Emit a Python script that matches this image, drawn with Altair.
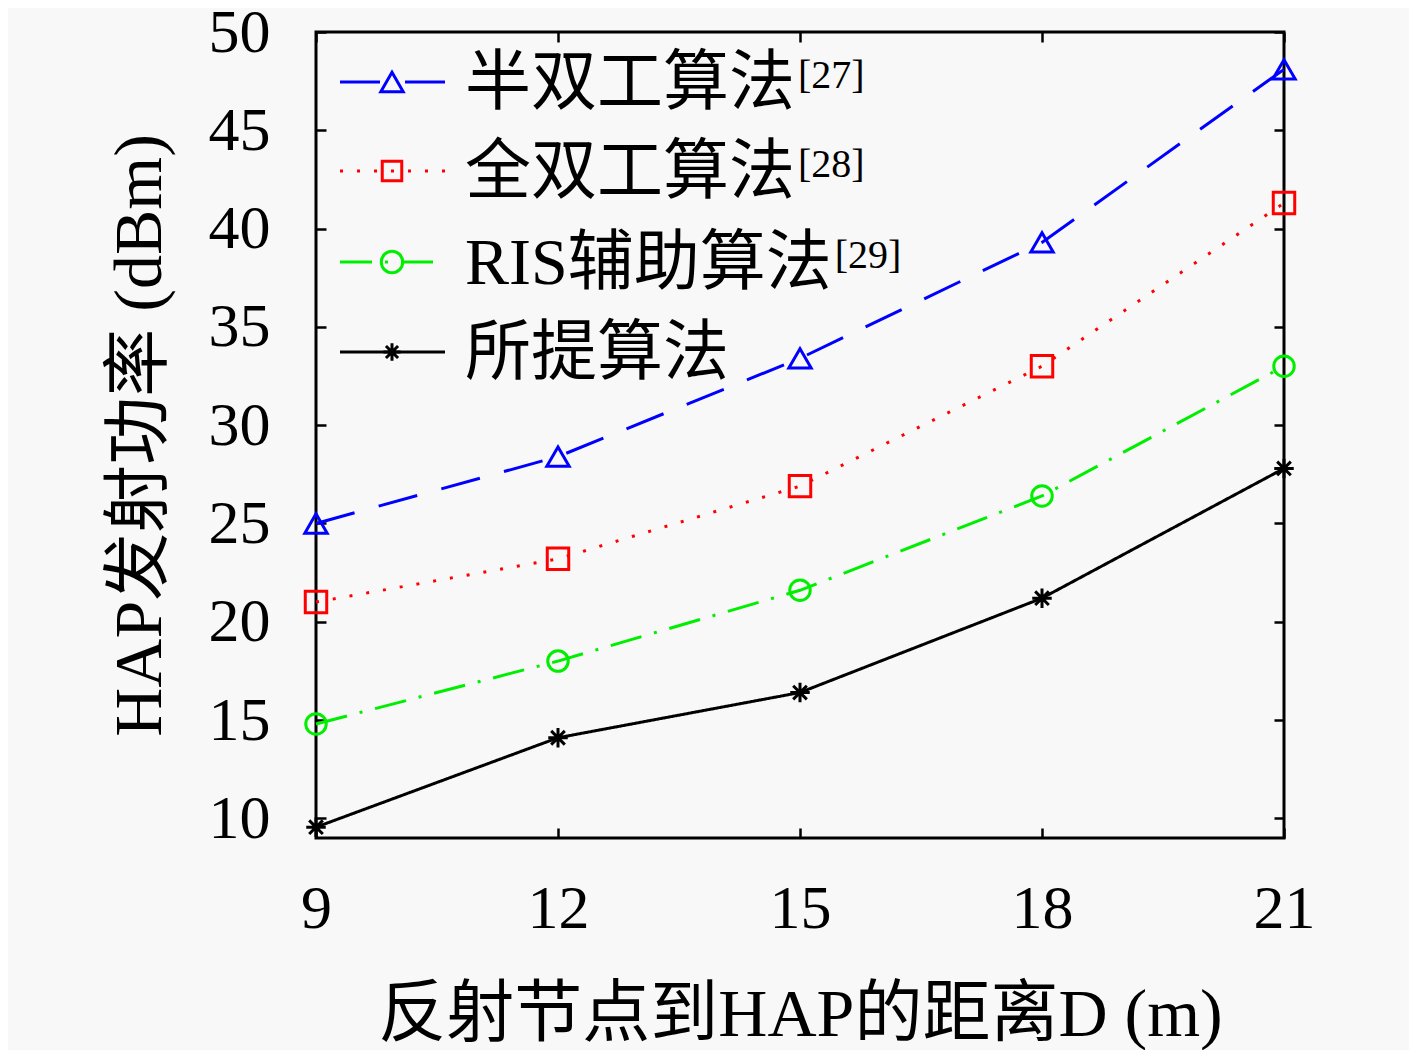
import altair as alt
import pandas as pd

# ---------------- data ----------------
distance = [9, 12, 15, 18, 21]
half_duplex = [25.0, 28.4, 33.4, 39.3, 48.1]
full_duplex = [21.0, 23.2, 26.9, 33.0, 41.3]
ris_assisted = [14.8, 18.0, 21.6, 26.4, 33.0]
proposed = [9.55, 14.1, 16.4, 21.2, 27.8]

series_names = ["半双工算法", "全双工算法", "RIS辅助算法", "所提算法"]
series_refs = ["[27]", "[28]", "[29]", ""]
x_ticks = [9, 12, 15, 18, 21]
y_ticks = [10, 15, 20, 25, 30, 35, 40, 45, 50]
x_title = "反射节点到HAP的距离D (m)"
y_title = "HAP发射功率 (dBm)"

# ---------------- styles ----------------
colors = ["#0000ff", "#ff0000", "#00ee00", "#000000"]
dashes = [[40, 25], [3, 14], [32, 13, 3, 13], [1, 0]]
asterisk = "M0,-1L0,1M-1,0L1,0M-0.7,-0.7L0.7,0.7M-0.7,0.7L0.7,-0.7"
shapes = ["triangle-up", "square", "circle", asterisk]
sizes = [500, 380, 460, 300]
LATIN = "Liberation Serif"
MIXED = "'Liberation Serif', 'Noto Sans CJK SC'"
BG = "#f8f8f8"
LW = 3

values = [half_duplex, full_duplex, ris_assisted, proposed]
rows = []
for name, vals in zip(series_names, values):
    for d, p in zip(distance, vals):
        rows.append({"D": d, "P": p, "series": name})
df = pd.DataFrame(rows)

xscale = alt.Scale(domain=[9, 21], nice=False, zero=False)
yscale = alt.Scale(domain=[9, 50], nice=False, zero=False)
color = alt.Color("series:N", scale=alt.Scale(domain=series_names, range=colors), legend=None)

tick_common = dict(tickSize=10, tickWidth=2.5, tickColor="black", domain=False, grid=False,
                   offset=-10, labelFlush=False, labelOverlap=False)

lines = alt.Chart(df).mark_line(strokeWidth=LW).encode(
    x=alt.X("D:Q", scale=xscale, axis=alt.Axis(
        orient="bottom", values=x_ticks, title=x_title, labelFont=LATIN, labelFontSize=62,
        labelColor="black", labelPadding=40, titleFont=MIXED, titleFontSize=68,
        titleFontWeight="normal", titleColor="black", titlePadding=42, **tick_common)),
    y=alt.Y("P:Q", scale=yscale, axis=alt.Axis(
        orient="left", values=y_ticks, title=y_title, labelFont=LATIN, labelFontSize=62,
        labelColor="black", labelPadding=46, titleFont=MIXED, titleFontSize=68,
        titleFontWeight="normal", titleColor="black", titlePadding=34, **tick_common)),
    color=color,
    strokeDash=alt.StrokeDash("series:N", scale=alt.Scale(domain=series_names, range=dashes),
                              legend=None),
)

points = alt.Chart(df).mark_point(filled=False, strokeWidth=LW, opacity=1).encode(
    x=alt.X("D:Q", scale=xscale, axis=alt.Axis(orient="top", values=x_ticks, labels=False,
                                               title=None, **tick_common)),
    y=alt.Y("P:Q", scale=yscale, axis=alt.Axis(orient="right", values=y_ticks, labels=False,
                                               title=None, **tick_common)),
    color=color,
    shape=alt.Shape("series:N", scale=alt.Scale(domain=series_names, range=shapes), legend=None),
    size=alt.Size("series:N", scale=alt.Scale(domain=series_names, range=sizes), legend=None),
)

# ---------------- custom legend (top-left, inside the frame) ----------------
one = pd.DataFrame({"k": [0]})
leg_rows_y = [50, 139, 230, 320]
leg_x0, leg_x1, leg_mx, leg_tx = 24, 129, 76, 149
FS = 66


def text_width(s, fs):
    w = 0.0
    for ch in s:
        if ord(ch) > 0x2E80:
            w += fs
        else:
            w += {"R": 0.667, "I": 0.333, "S": 0.556}.get(ch, 0.5) * fs
    return w


legend_layers = []
for i, name in enumerate(series_names):
    ry = leg_rows_y[i]
    legend_layers.append(
        alt.Chart(one).mark_rule(color=colors[i], strokeWidth=LW, strokeDash=dashes[i]).encode(
            x=alt.value(leg_x0), x2=alt.value(leg_x1), y=alt.value(ry)))
    legend_layers.append(
        alt.Chart(one).mark_point(shape=shapes[i], filled=False, color=colors[i], size=sizes[i],
                                  strokeWidth=LW, opacity=1).encode(
            x=alt.value(leg_mx), y=alt.value(ry)))
    legend_layers.append(
        alt.Chart(pd.DataFrame({"t": [name]})).mark_text(
            align="left", baseline="middle", font=MIXED, fontSize=FS, color="black").encode(
            x=alt.value(leg_tx), y=alt.value(ry + 2), text="t:N"))
    if series_refs[i]:
        legend_layers.append(
            alt.Chart(pd.DataFrame({"t": [series_refs[i]]})).mark_text(
                align="left", baseline="top", font=LATIN, fontSize=40, color="black").encode(
                x=alt.value(leg_tx + text_width(name, FS) + 3), y=alt.value(ry - 26),
                text="t:N"))

chart = alt.layer(lines, points, *legend_layers).resolve_axis(
    x="independent", y="independent"
).properties(
    width=968, height=806,
    autosize=alt.AutoSizeParams(type="none"),
    padding={"left": 308, "top": 24, "right": 125, "bottom": 212},
    background=BG,
).configure_view(stroke="black", strokeWidth=3)

chart.save("out.html", embed_options={"renderer": "svg", "actions": False})
